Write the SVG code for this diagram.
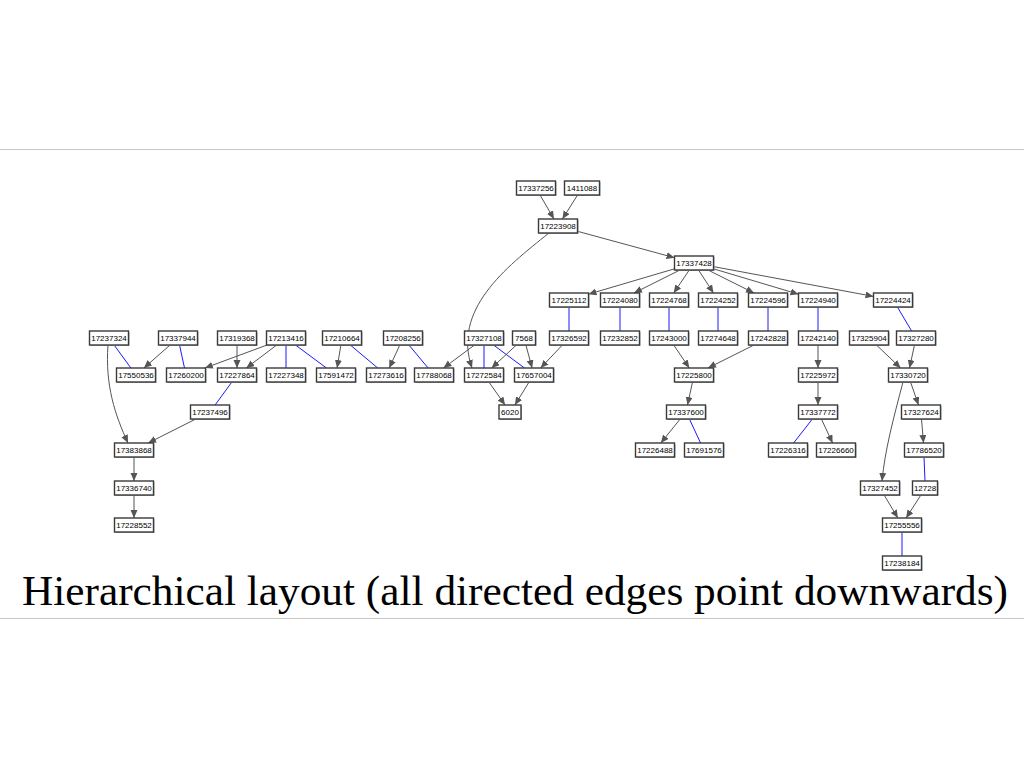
<svg xmlns="http://www.w3.org/2000/svg" width="1024" height="768" viewBox="0 0 1024 768">
<style>
.sep{stroke:#c8c8c8;stroke-width:1}
.title{font-family:"Liberation Serif","Times New Roman",serif;font-size:43px;fill:#000}
.n rect.s{fill:#a8a8a8}
.n rect.b{fill:#fff;stroke:#3a3a3a;stroke-width:1.4}
.n text{font-family:"Liberation Sans",Arial,sans-serif;font-size:8px;fill:#000;text-anchor:middle}
.d{stroke:#555;stroke-width:1;fill:none;marker-end:url(#ah)}
.u{stroke:#1a1aff;stroke-width:1;fill:none}
</style>
<defs>
<marker id="ah" markerUnits="userSpaceOnUse" markerWidth="9" markerHeight="8" refX="8" refY="3.5" orient="auto">
<path d="M0,0 L8,3.5 L0,7 z" fill="#555"/>
</marker>
</defs>
<rect width="1024" height="768" fill="#fff"/>
<line class="sep" x1="0" y1="149.5" x2="1024" y2="149.5"/>
<line class="sep" x1="0" y1="618.5" x2="1024" y2="618.5"/>

<g id="edges">
<path class="d" d="M540,195 L554,219"/>
<path class="d" d="M577.6,195 L562.4,219"/>
<path class="d" d="M577.5,231.3 L674.5,257.7"/>
<path class="d" d="M549,233 C505,268 452,310 472,368"/>
<path class="d" d="M674.5,268.8 L588.5,294.2"/>
<path class="d" d="M680,270 L634,293"/>
<path class="d" d="M689.3,270 L673.7,293"/>
<path class="d" d="M698.5,270 L713.5,293"/>
<path class="d" d="M708,270 L754,293"/>
<path class="d" d="M713.5,268.8 L798.5,294.2"/>
<path class="d" d="M713.5,266.6 L873.5,296.4"/>
<path class="u" d="M569,307 L569,331"/>
<path class="u" d="M620,307 L620,331"/>
<path class="u" d="M669,307 L669,331"/>
<path class="u" d="M718,307 L718,331"/>
<path class="u" d="M768,307 L768,331"/>
<path class="u" d="M818,307 L818,331"/>
<path class="u" d="M897.4,307 L911.6,331"/>
<path class="d" d="M170.1,345 L143.9,368"/>
<path class="u" d="M114.1,345 L130.9,368"/>
<path class="u" d="M179.5,345 L184.5,368"/>
<path class="d" d="M237,345 L237,368"/>
<path class="d" d="M267.1,345 L204.9,368"/>
<path class="d" d="M276.7,345 L246.3,368"/>
<path class="u" d="M286,345 L286,368"/>
<path class="u" d="M295.5,345 L326.5,368"/>
<path class="d" d="M340.9,345 L337.1,368"/>
<path class="u" d="M350.3,345 L377.7,368"/>
<path class="d" d="M399.8,345 L389.2,368"/>
<path class="u" d="M408.9,345 L428.1,368"/>
<path class="d" d="M474.5,345 L443.5,368"/>
<path class="u" d="M484,345 L484,368"/>
<path class="u" d="M493.5,345 L524.5,368"/>
<path class="d" d="M516.4,345 L491.6,368"/>
<path class="d" d="M525.9,345 L532.1,368"/>
<path class="d" d="M562.4,345 L540.6,368"/>
<path class="d" d="M673.7,345 L689.3,368"/>
<path class="d" d="M754,345 L708,368"/>
<path class="d" d="M818,345 L818,368"/>
<path class="d" d="M876.4,345 L900.6,368"/>
<path class="d" d="M914.5,345 L909.5,368"/>
<path class="d" d="M108,345 C105,385 115,415 128,443"/>
<path class="u" d="M231.9,382 L215.1,405"/>
<path class="d" d="M488.9,382 L505.1,405"/>
<path class="d" d="M529.1,382 L514.9,405"/>
<path class="d" d="M692.5,382 L687.5,405"/>
<path class="d" d="M818,382 L818,405"/>
<path class="d" d="M910.5,382 L918.5,405"/>
<path class="d" d="M903,382 C893,420 885,450 882,481"/>
<path class="d" d="M195.8,419 L148.2,443"/>
<path class="d" d="M680.2,419 L660.8,443"/>
<path class="u" d="M689.4,419 L700.6,443"/>
<path class="u" d="M812.4,419 L793.6,443"/>
<path class="d" d="M821.4,419 L832.6,443"/>
<path class="d" d="M921.5,419 L923.5,443"/>
<path class="d" d="M134,457 L134,481"/>
<path class="u" d="M924,457 L925,481"/>
<path class="d" d="M134,495 L134,518"/>
<path class="d" d="M884.1,495 L897.9,518"/>
<path class="d" d="M920.9,495 L906.1,518"/>
<path class="u" d="M902,532 L902,556"/>
</g>

<g id="n17337256" class="n" transform="translate(536,188)"><rect class="s" x="-18.5" y="-6" width="39" height="14"/><rect class="b" x="-19.5" y="-7" width="39" height="14"/><text y="2.8">17337256</text></g>
<g id="n1411088" class="n" transform="translate(582,188)"><rect class="s" x="-16.5" y="-6" width="35" height="14"/><rect class="b" x="-17.5" y="-7" width="35" height="14"/><text y="2.8">1411088</text></g>
<g id="n17223908" class="n" transform="translate(558,226)"><rect class="s" x="-18.5" y="-6" width="39" height="14"/><rect class="b" x="-19.5" y="-7" width="39" height="14"/><text y="2.8">17223908</text></g>
<g id="n17337428" class="n" transform="translate(694,263)"><rect class="s" x="-18.5" y="-6" width="39" height="14"/><rect class="b" x="-19.5" y="-7" width="39" height="14"/><text y="2.8">17337428</text></g>
<g id="n17225112" class="n" transform="translate(569,300)"><rect class="s" x="-18.5" y="-6" width="39" height="14"/><rect class="b" x="-19.5" y="-7" width="39" height="14"/><text y="2.8">17225112</text></g>
<g id="n17224080" class="n" transform="translate(620,300)"><rect class="s" x="-18.5" y="-6" width="39" height="14"/><rect class="b" x="-19.5" y="-7" width="39" height="14"/><text y="2.8">17224080</text></g>
<g id="n17224768" class="n" transform="translate(669,300)"><rect class="s" x="-18.5" y="-6" width="39" height="14"/><rect class="b" x="-19.5" y="-7" width="39" height="14"/><text y="2.8">17224768</text></g>
<g id="n17224252" class="n" transform="translate(718,300)"><rect class="s" x="-18.5" y="-6" width="39" height="14"/><rect class="b" x="-19.5" y="-7" width="39" height="14"/><text y="2.8">17224252</text></g>
<g id="n17224596" class="n" transform="translate(768,300)"><rect class="s" x="-18.5" y="-6" width="39" height="14"/><rect class="b" x="-19.5" y="-7" width="39" height="14"/><text y="2.8">17224596</text></g>
<g id="n17224940" class="n" transform="translate(818,300)"><rect class="s" x="-18.5" y="-6" width="39" height="14"/><rect class="b" x="-19.5" y="-7" width="39" height="14"/><text y="2.8">17224940</text></g>
<g id="n17224424" class="n" transform="translate(893,300)"><rect class="s" x="-18.5" y="-6" width="39" height="14"/><rect class="b" x="-19.5" y="-7" width="39" height="14"/><text y="2.8">17224424</text></g>

<g id="n17237324" class="n" transform="translate(109,338)"><rect class="s" x="-18.5" y="-6" width="39" height="14"/><rect class="b" x="-19.5" y="-7" width="39" height="14"/><text y="2.8">17237324</text></g>
<g id="n17337944" class="n" transform="translate(178,338)"><rect class="s" x="-18.5" y="-6" width="39" height="14"/><rect class="b" x="-19.5" y="-7" width="39" height="14"/><text y="2.8">17337944</text></g>
<g id="n17319368" class="n" transform="translate(237,338)"><rect class="s" x="-18.5" y="-6" width="39" height="14"/><rect class="b" x="-19.5" y="-7" width="39" height="14"/><text y="2.8">17319368</text></g>
<g id="n17213416" class="n" transform="translate(286,338)"><rect class="s" x="-18.5" y="-6" width="39" height="14"/><rect class="b" x="-19.5" y="-7" width="39" height="14"/><text y="2.8">17213416</text></g>
<g id="n17210664" class="n" transform="translate(342,338)"><rect class="s" x="-18.5" y="-6" width="39" height="14"/><rect class="b" x="-19.5" y="-7" width="39" height="14"/><text y="2.8">17210664</text></g>
<g id="n17208256" class="n" transform="translate(403,338)"><rect class="s" x="-18.5" y="-6" width="39" height="14"/><rect class="b" x="-19.5" y="-7" width="39" height="14"/><text y="2.8">17208256</text></g>
<g id="n17327108" class="n" transform="translate(484,338)"><rect class="s" x="-18.5" y="-6" width="39" height="14"/><rect class="b" x="-19.5" y="-7" width="39" height="14"/><text y="2.8">17327108</text></g>
<g id="n7568" class="n" transform="translate(524,338)"><rect class="s" x="-10.5" y="-6" width="23" height="14"/><rect class="b" x="-11.5" y="-7" width="23" height="14"/><text y="2.8">7568</text></g>
<g id="n17326592" class="n" transform="translate(569,338)"><rect class="s" x="-18.5" y="-6" width="39" height="14"/><rect class="b" x="-19.5" y="-7" width="39" height="14"/><text y="2.8">17326592</text></g>
<g id="n17232852" class="n" transform="translate(620,338)"><rect class="s" x="-18.5" y="-6" width="39" height="14"/><rect class="b" x="-19.5" y="-7" width="39" height="14"/><text y="2.8">17232852</text></g>
<g id="n17243000" class="n" transform="translate(669,338)"><rect class="s" x="-18.5" y="-6" width="39" height="14"/><rect class="b" x="-19.5" y="-7" width="39" height="14"/><text y="2.8">17243000</text></g>
<g id="n17274648" class="n" transform="translate(718,338)"><rect class="s" x="-18.5" y="-6" width="39" height="14"/><rect class="b" x="-19.5" y="-7" width="39" height="14"/><text y="2.8">17274648</text></g>
<g id="n17242828" class="n" transform="translate(768,338)"><rect class="s" x="-18.5" y="-6" width="39" height="14"/><rect class="b" x="-19.5" y="-7" width="39" height="14"/><text y="2.8">17242828</text></g>
<g id="n17242140" class="n" transform="translate(818,338)"><rect class="s" x="-18.5" y="-6" width="39" height="14"/><rect class="b" x="-19.5" y="-7" width="39" height="14"/><text y="2.8">17242140</text></g>
<g id="n17325904" class="n" transform="translate(869,338)"><rect class="s" x="-18.5" y="-6" width="39" height="14"/><rect class="b" x="-19.5" y="-7" width="39" height="14"/><text y="2.8">17325904</text></g>
<g id="n17327280" class="n" transform="translate(916,338)"><rect class="s" x="-18.5" y="-6" width="39" height="14"/><rect class="b" x="-19.5" y="-7" width="39" height="14"/><text y="2.8">17327280</text></g>

<g id="n17550536" class="n" transform="translate(136,375)"><rect class="s" x="-18.5" y="-6" width="39" height="14"/><rect class="b" x="-19.5" y="-7" width="39" height="14"/><text y="2.8">17550536</text></g>
<g id="n17260200" class="n" transform="translate(186,375)"><rect class="s" x="-18.5" y="-6" width="39" height="14"/><rect class="b" x="-19.5" y="-7" width="39" height="14"/><text y="2.8">17260200</text></g>
<g id="n17227864" class="n" transform="translate(237,375)"><rect class="s" x="-18.5" y="-6" width="39" height="14"/><rect class="b" x="-19.5" y="-7" width="39" height="14"/><text y="2.8">17227864</text></g>
<g id="n17227348" class="n" transform="translate(286,375)"><rect class="s" x="-18.5" y="-6" width="39" height="14"/><rect class="b" x="-19.5" y="-7" width="39" height="14"/><text y="2.8">17227348</text></g>
<g id="n17591472" class="n" transform="translate(336,375)"><rect class="s" x="-18.5" y="-6" width="39" height="14"/><rect class="b" x="-19.5" y="-7" width="39" height="14"/><text y="2.8">17591472</text></g>
<g id="n17273616" class="n" transform="translate(386,375)"><rect class="s" x="-18.5" y="-6" width="39" height="14"/><rect class="b" x="-19.5" y="-7" width="39" height="14"/><text y="2.8">17273616</text></g>
<g id="n17788068" class="n" transform="translate(434,375)"><rect class="s" x="-18.5" y="-6" width="39" height="14"/><rect class="b" x="-19.5" y="-7" width="39" height="14"/><text y="2.8">17788068</text></g>
<g id="n17272584" class="n" transform="translate(484,375)"><rect class="s" x="-18.5" y="-6" width="39" height="14"/><rect class="b" x="-19.5" y="-7" width="39" height="14"/><text y="2.8">17272584</text></g>
<g id="n17657004" class="n" transform="translate(534,375)"><rect class="s" x="-18.5" y="-6" width="39" height="14"/><rect class="b" x="-19.5" y="-7" width="39" height="14"/><text y="2.8">17657004</text></g>
<g id="n17225800" class="n" transform="translate(694,375)"><rect class="s" x="-18.5" y="-6" width="39" height="14"/><rect class="b" x="-19.5" y="-7" width="39" height="14"/><text y="2.8">17225800</text></g>
<g id="n17225972" class="n" transform="translate(818,375)"><rect class="s" x="-18.5" y="-6" width="39" height="14"/><rect class="b" x="-19.5" y="-7" width="39" height="14"/><text y="2.8">17225972</text></g>
<g id="n17330720" class="n" transform="translate(908,375)"><rect class="s" x="-18.5" y="-6" width="39" height="14"/><rect class="b" x="-19.5" y="-7" width="39" height="14"/><text y="2.8">17330720</text></g>

<g id="n17237496" class="n" transform="translate(210,412)"><rect class="s" x="-18.5" y="-6" width="39" height="14"/><rect class="b" x="-19.5" y="-7" width="39" height="14"/><text y="2.8">17237496</text></g>
<g id="n6020" class="n" transform="translate(510,412)"><rect class="s" x="-10" y="-6" width="22" height="14"/><rect class="b" x="-11" y="-7" width="22" height="14"/><text y="2.8">6020</text></g>
<g id="n17337600" class="n" transform="translate(686,412)"><rect class="s" x="-18.5" y="-6" width="39" height="14"/><rect class="b" x="-19.5" y="-7" width="39" height="14"/><text y="2.8">17337600</text></g>
<g id="n17337772" class="n" transform="translate(818,412)"><rect class="s" x="-18.5" y="-6" width="39" height="14"/><rect class="b" x="-19.5" y="-7" width="39" height="14"/><text y="2.8">17337772</text></g>
<g id="n17327624" class="n" transform="translate(921,412)"><rect class="s" x="-18.5" y="-6" width="39" height="14"/><rect class="b" x="-19.5" y="-7" width="39" height="14"/><text y="2.8">17327624</text></g>

<g id="n17383868" class="n" transform="translate(134,450)"><rect class="s" x="-18.5" y="-6" width="39" height="14"/><rect class="b" x="-19.5" y="-7" width="39" height="14"/><text y="2.8">17383868</text></g>
<g id="n17226488" class="n" transform="translate(655,450)"><rect class="s" x="-18.5" y="-6" width="39" height="14"/><rect class="b" x="-19.5" y="-7" width="39" height="14"/><text y="2.8">17226488</text></g>
<g id="n17691576" class="n" transform="translate(704,450)"><rect class="s" x="-18.5" y="-6" width="39" height="14"/><rect class="b" x="-19.5" y="-7" width="39" height="14"/><text y="2.8">17691576</text></g>
<g id="n17226316" class="n" transform="translate(788,450)"><rect class="s" x="-18.5" y="-6" width="39" height="14"/><rect class="b" x="-19.5" y="-7" width="39" height="14"/><text y="2.8">17226316</text></g>
<g id="n17226660" class="n" transform="translate(836,450)"><rect class="s" x="-18.5" y="-6" width="39" height="14"/><rect class="b" x="-19.5" y="-7" width="39" height="14"/><text y="2.8">17226660</text></g>
<g id="n17786520" class="n" transform="translate(924,450)"><rect class="s" x="-18.5" y="-6" width="39" height="14"/><rect class="b" x="-19.5" y="-7" width="39" height="14"/><text y="2.8">17786520</text></g>

<g id="n17336740" class="n" transform="translate(134,488)"><rect class="s" x="-18.5" y="-6" width="39" height="14"/><rect class="b" x="-19.5" y="-7" width="39" height="14"/><text y="2.8">17336740</text></g>
<g id="n17327452" class="n" transform="translate(880,488)"><rect class="s" x="-18.5" y="-6" width="39" height="14"/><rect class="b" x="-19.5" y="-7" width="39" height="14"/><text y="2.8">17327452</text></g>
<g id="n12728" class="n" transform="translate(925,488)"><rect class="s" x="-11.5" y="-6" width="25" height="14"/><rect class="b" x="-12.5" y="-7" width="25" height="14"/><text y="2.8">12728</text></g>

<g id="n17228552" class="n" transform="translate(134,525)"><rect class="s" x="-18.5" y="-6" width="39" height="14"/><rect class="b" x="-19.5" y="-7" width="39" height="14"/><text y="2.8">17228552</text></g>
<g id="n17255556" class="n" transform="translate(902,525)"><rect class="s" x="-18.5" y="-6" width="39" height="14"/><rect class="b" x="-19.5" y="-7" width="39" height="14"/><text y="2.8">17255556</text></g>
<g id="n17238184" class="n" transform="translate(902,563)"><rect class="s" x="-18.5" y="-6" width="39" height="14"/><rect class="b" x="-19.5" y="-7" width="39" height="14"/><text y="2.8">17238184</text></g>

<text class="title" x="22" y="605" textLength="986" lengthAdjust="spacingAndGlyphs">Hierarchical layout (all directed edges point downwards)</text>
</svg>
